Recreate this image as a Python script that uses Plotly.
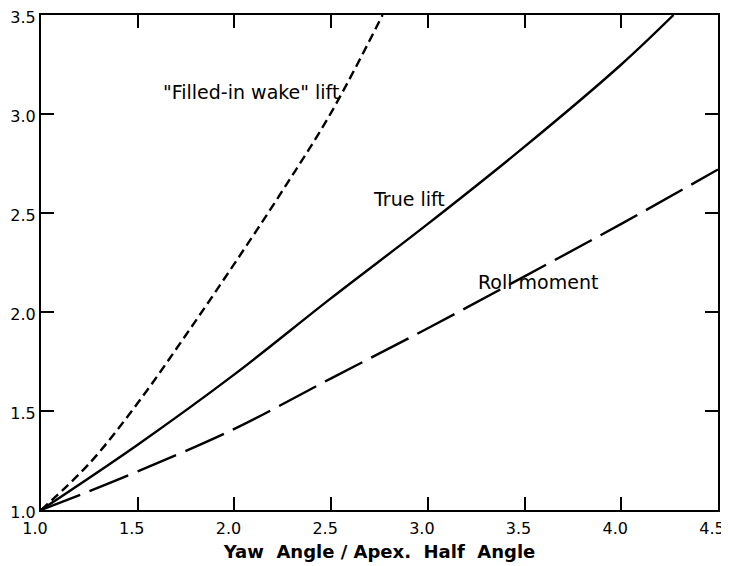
import plotly.graph_objects as go

# Data
x_true = [1.0, 1.5, 2.0, 2.5, 3.0, 3.5, 4.0, 4.27]
y_true = [1.0, 1.33, 1.685, 2.07, 2.445, 2.835, 3.25, 3.5]

x_roll = [1.0, 1.25, 1.5, 2.0, 2.5, 3.0, 3.5, 4.0, 4.5]
y_roll = [1.0, 1.095, 1.195, 1.41, 1.665, 1.918, 2.18, 2.445, 2.72]

x_wake = [1.0, 1.25, 1.5, 1.75, 2.0, 2.25, 2.5, 2.766]
y_wake = [1.0, 1.235, 1.54, 1.885, 2.244, 2.615, 3.007, 3.5]

x_ticks = [1.0, 1.5, 2.0, 2.5, 3.0, 3.5, 4.0, 4.5]
y_ticks = [1.0, 1.5, 2.0, 2.5, 3.0, 3.5]

labels = ['"Filled-in wake" lift', "True lift", "Roll moment"]
label_x = [2.084, 2.9, 3.57]
label_y = [3.11, 2.57, 2.154]

FONT = "DejaVu Sans"

fig = go.Figure()
fig.add_trace(go.Scatter(x=x_wake, y=y_wake, mode="lines",
                         line=dict(color="black", width=2.4, dash="9px,5px"),
                         line_shape="spline", showlegend=False))
fig.add_trace(go.Scatter(x=x_true, y=y_true, mode="lines",
                         line=dict(color="black", width=2.4),
                         line_shape="spline", showlegend=False))
fig.add_trace(go.Scatter(x=x_roll, y=y_roll, mode="lines",
                         line=dict(color="black", width=2.4, dash="42px,10px"),
                         line_shape="spline", showlegend=False))

for t, ax_, ay_ in zip(labels, label_x, label_y):
    fig.add_annotation(x=ax_, y=ay_, text=t, showarrow=False,
                       font=dict(family=FONT, size=19, color="black"))

axis_common = dict(showline=True, linecolor="black", linewidth=2, mirror="ticks",
                   ticks="inside", ticklen=13, tickwidth=2, tickcolor="black",
                   showgrid=False, zeroline=False, automargin=False,
                   ticklabeloverflow="allow")

fig.update_xaxes(range=[1.0, 4.5], tickvals=x_ticks,
                 ticktext=[f"{v:.1f}" for v in x_ticks],
                 ticklabelshift=-6, ticklabelstandoff=3,
                 tickfont=dict(family=FONT, size=16, color="black"),
                 title=dict(text="<b>Yaw  Angle / Apex.  Half  Angle</b>",
                            font=dict(family=FONT, size=18, color="black"),
                            standoff=8),
                 **axis_common)
fig.update_yaxes(range=[1.0, 3.5], tickvals=y_ticks,
                 ticktext=[f"{v:.1f}" for v in y_ticks],
                 ticklabelstandoff=0, ticklabelshift=2,
                 tickfont=dict(family=FONT, size=16, color="black"),
                 **axis_common)

# page body has an 8px margin, so the figure is sized/offset to compensate
fig.update_layout(width=721, height=558,
                  margin=dict(l=33, r=11, t=7, b=56),
                  plot_bgcolor="white", paper_bgcolor="white")

fig.write_html("out.html")
